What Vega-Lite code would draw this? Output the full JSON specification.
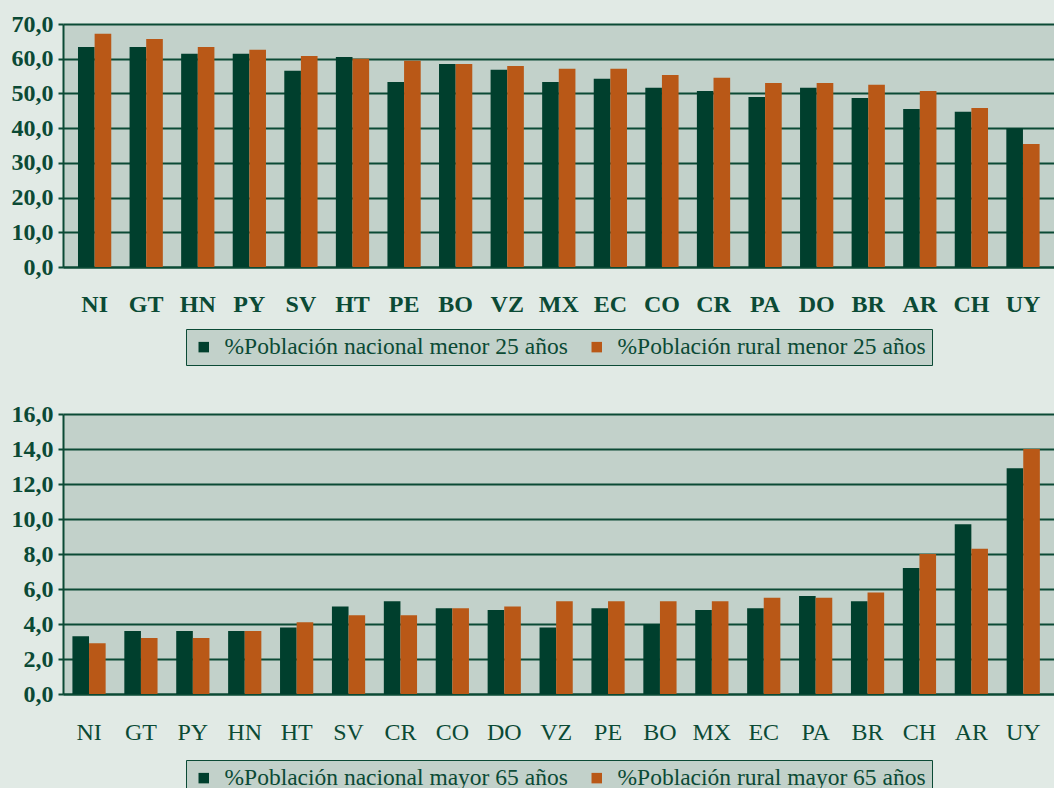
{
  "$schema": "https://vega.github.io/schema/vega-lite/v6.json",
  "background": "#e1eae5",
  "padding": {"left": 11, "top": 12, "right": 0, "bottom": 0},
  "bounds": "flush",
  "spacing": 147,
  "config": {
    "view": {"fill": "#c2d1ca", "stroke": null},
    "font": "Liberation Serif",
    "axis": {
      "labelColor": "#0b4a35",
      "labelFont": "Liberation Serif",
      "domainColor": "#0b4a35",
      "domainWidth": 2,
      "gridColor": "#0b4a35",
      "gridWidth": 2,
      "gridOpacity": 1,
      "tickColor": "#0b4a35",
      "tickWidth": 2,
      "tickSize": 5
    },
    "legend": {
      "labelColor": "#0b4a35",
      "labelFont": "Liberation Serif",
      "labelLimit": 600
    }
  },
  "datasets": {
    "menor25": [
      {"pais": "NI", "serie": "%Población nacional menor 25 años", "valor": 63.4},
      {"pais": "NI", "serie": "%Población rural menor 25 años", "valor": 67.2},
      {"pais": "GT", "serie": "%Población nacional menor 25 años", "valor": 63.4},
      {"pais": "GT", "serie": "%Población rural menor 25 años", "valor": 65.7},
      {"pais": "HN", "serie": "%Población nacional menor 25 años", "valor": 61.4},
      {"pais": "HN", "serie": "%Población rural menor 25 años", "valor": 63.4},
      {"pais": "PY", "serie": "%Población nacional menor 25 años", "valor": 61.4},
      {"pais": "PY", "serie": "%Población rural menor 25 años", "valor": 62.6},
      {"pais": "SV", "serie": "%Población nacional menor 25 años", "valor": 56.5},
      {"pais": "SV", "serie": "%Población rural menor 25 años", "valor": 60.8},
      {"pais": "HT", "serie": "%Población nacional menor 25 años", "valor": 60.5},
      {"pais": "HT", "serie": "%Población rural menor 25 años", "valor": 60.0},
      {"pais": "PE", "serie": "%Población nacional menor 25 años", "valor": 53.3},
      {"pais": "PE", "serie": "%Población rural menor 25 años", "valor": 59.4},
      {"pais": "BO", "serie": "%Población nacional menor 25 años", "valor": 58.5},
      {"pais": "BO", "serie": "%Población rural menor 25 años", "valor": 58.5},
      {"pais": "VZ", "serie": "%Población nacional menor 25 años", "valor": 56.8},
      {"pais": "VZ", "serie": "%Población rural menor 25 años", "valor": 57.9},
      {"pais": "MX", "serie": "%Población nacional menor 25 años", "valor": 53.3},
      {"pais": "MX", "serie": "%Población rural menor 25 años", "valor": 57.1},
      {"pais": "EC", "serie": "%Población nacional menor 25 años", "valor": 54.2},
      {"pais": "EC", "serie": "%Población rural menor 25 años", "valor": 57.1},
      {"pais": "CO", "serie": "%Población nacional menor 25 años", "valor": 51.6},
      {"pais": "CO", "serie": "%Población rural menor 25 años", "valor": 55.3},
      {"pais": "CR", "serie": "%Población nacional menor 25 años", "valor": 50.7},
      {"pais": "CR", "serie": "%Población rural menor 25 años", "valor": 54.5},
      {"pais": "PA", "serie": "%Población nacional menor 25 años", "valor": 49.0},
      {"pais": "PA", "serie": "%Población rural menor 25 años", "valor": 53.0},
      {"pais": "DO", "serie": "%Población nacional menor 25 años", "valor": 51.6},
      {"pais": "DO", "serie": "%Población rural menor 25 años", "valor": 53.0},
      {"pais": "BR", "serie": "%Población nacional menor 25 años", "valor": 48.7},
      {"pais": "BR", "serie": "%Población rural menor 25 años", "valor": 52.5},
      {"pais": "AR", "serie": "%Población nacional menor 25 años", "valor": 45.5},
      {"pais": "AR", "serie": "%Población rural menor 25 años", "valor": 50.7},
      {"pais": "CH", "serie": "%Población nacional menor 25 años", "valor": 44.7},
      {"pais": "CH", "serie": "%Población rural menor 25 años", "valor": 45.8},
      {"pais": "UY", "serie": "%Población nacional menor 25 años", "valor": 40.0},
      {"pais": "UY", "serie": "%Población rural menor 25 años", "valor": 35.4}
    ],
    "mayor65": [
      {"pais": "NI", "serie": "%Población nacional mayor 65 años", "valor": 3.3},
      {"pais": "NI", "serie": "%Población rural mayor 65 años", "valor": 2.9},
      {"pais": "GT", "serie": "%Población nacional mayor 65 años", "valor": 3.6},
      {"pais": "GT", "serie": "%Población rural mayor 65 años", "valor": 3.2},
      {"pais": "PY", "serie": "%Población nacional mayor 65 años", "valor": 3.6},
      {"pais": "PY", "serie": "%Población rural mayor 65 años", "valor": 3.2},
      {"pais": "HN", "serie": "%Población nacional mayor 65 años", "valor": 3.6},
      {"pais": "HN", "serie": "%Población rural mayor 65 años", "valor": 3.6},
      {"pais": "HT", "serie": "%Población nacional mayor 65 años", "valor": 3.8},
      {"pais": "HT", "serie": "%Población rural mayor 65 años", "valor": 4.1},
      {"pais": "SV", "serie": "%Población nacional mayor 65 años", "valor": 5.0},
      {"pais": "SV", "serie": "%Población rural mayor 65 años", "valor": 4.5},
      {"pais": "CR", "serie": "%Población nacional mayor 65 años", "valor": 5.3},
      {"pais": "CR", "serie": "%Población rural mayor 65 años", "valor": 4.5},
      {"pais": "CO", "serie": "%Población nacional mayor 65 años", "valor": 4.9},
      {"pais": "CO", "serie": "%Población rural mayor 65 años", "valor": 4.9},
      {"pais": "DO", "serie": "%Población nacional mayor 65 años", "valor": 4.8},
      {"pais": "DO", "serie": "%Población rural mayor 65 años", "valor": 5.0},
      {"pais": "VZ", "serie": "%Población nacional mayor 65 años", "valor": 3.8},
      {"pais": "VZ", "serie": "%Población rural mayor 65 años", "valor": 5.3},
      {"pais": "PE", "serie": "%Población nacional mayor 65 años", "valor": 4.9},
      {"pais": "PE", "serie": "%Población rural mayor 65 años", "valor": 5.3},
      {"pais": "BO", "serie": "%Población nacional mayor 65 años", "valor": 4.0},
      {"pais": "BO", "serie": "%Población rural mayor 65 años", "valor": 5.3},
      {"pais": "MX", "serie": "%Población nacional mayor 65 años", "valor": 4.8},
      {"pais": "MX", "serie": "%Población rural mayor 65 años", "valor": 5.3},
      {"pais": "EC", "serie": "%Población nacional mayor 65 años", "valor": 4.9},
      {"pais": "EC", "serie": "%Población rural mayor 65 años", "valor": 5.5},
      {"pais": "PA", "serie": "%Población nacional mayor 65 años", "valor": 5.6},
      {"pais": "PA", "serie": "%Población rural mayor 65 años", "valor": 5.5},
      {"pais": "BR", "serie": "%Población nacional mayor 65 años", "valor": 5.3},
      {"pais": "BR", "serie": "%Población rural mayor 65 años", "valor": 5.8},
      {"pais": "CH", "serie": "%Población nacional mayor 65 años", "valor": 7.2},
      {"pais": "CH", "serie": "%Población rural mayor 65 años", "valor": 8.0},
      {"pais": "AR", "serie": "%Población nacional mayor 65 años", "valor": 9.7},
      {"pais": "AR", "serie": "%Población rural mayor 65 años", "valor": 8.3},
      {"pais": "UY", "serie": "%Población nacional mayor 65 años", "valor": 12.9},
      {"pais": "UY", "serie": "%Población rural mayor 65 años", "valor": 14.0}
    ]
  },
  "vconcat": [
    {
      "width": 991,
      "height": 243,
      "data": {"name": "menor25"},
      "mark": {"type": "bar"},
      "encoding": {
        "x": {
          "field": "pais", "type": "nominal",
          "sort": ["NI","GT","HN","PY","SV","HT","PE","BO","VZ","MX","EC","CO","CR","PA","DO","BR","AR","CH","UY"],
          "scale": {"paddingInner": 0.355, "paddingOuter": 0.285, "align": 0.51},
          "axis": {"title": null, "labelAngle": 0, "ticks": false, "labelPadding": 25, "labelBaseline": "top", "labelFontSize": 24, "labelFontWeight": "bold", "grid": false}
        },
        "xOffset": {"field": "serie", "type": "nominal"},
        "y": {
          "field": "valor", "type": "quantitative",
          "scale": {"domain": [0, 70], "nice": false},
          "axis": {"title": null, "values": [0,10,20,30,40,50,60,70], "labelExpr": "replace(format(datum.value, '.1f'), '.', ',')", "labelFontSize": 24, "labelFontWeight": "bold", "labelPadding": 5}
        },
        "color": {
          "field": "serie", "type": "nominal",
          "scale": {"domain": ["%Población nacional menor 25 años", "%Población rural menor 25 años"], "range": ["#003f2d", "#b95817"]},
          "legend": {"title": null, "orient": "none", "legendX": 123, "legendY": 305, "direction": "horizontal", "fillColor": "#c2d1ca", "strokeColor": "#0b4a35", "padding": 6, "symbolType": "square", "symbolSize": 110, "symbolStrokeWidth": 0, "labelFont": "Liberation Serif", "labelFontSize": 23.5, "labelColor": "#0b4a35", "columnPadding": 17, "labelOffset": 9}
        }
      }
    },
    {
      "width": 991,
      "height": 280,
      "data": {"name": "mayor65"},
      "mark": {"type": "bar"},
      "encoding": {
        "x": {
          "field": "pais", "type": "nominal",
          "sort": ["NI","GT","PY","HN","HT","SV","CR","CO","DO","VZ","PE","BO","MX","EC","PA","BR","CH","AR","UY"],
          "scale": {"paddingInner": 0.36, "paddingOuter": 0.227, "align": 0.4},
          "axis": {"title": null, "labelAngle": 0, "ticks": false, "labelPadding": 26, "labelBaseline": "top", "labelFontSize": 24, "grid": false}
        },
        "xOffset": {"field": "serie", "type": "nominal"},
        "y": {
          "field": "valor", "type": "quantitative",
          "scale": {"domain": [0, 16], "nice": false},
          "axis": {"title": null, "values": [0,2,4,6,8,10,12,14,16], "labelExpr": "replace(format(datum.value, '.1f'), '.', ',')", "labelFontSize": 24, "labelFontWeight": "bold", "labelPadding": 5}
        },
        "color": {
          "field": "serie", "type": "nominal",
          "scale": {"domain": ["%Población nacional mayor 65 años", "%Población rural mayor 65 años"], "range": ["#003f2d", "#b95817"]},
          "legend": {"title": null, "orient": "none", "legendX": 123, "legendY": 346, "direction": "horizontal", "fillColor": "#c2d1ca", "strokeColor": "#0b4a35", "padding": 6, "symbolType": "square", "symbolSize": 110, "symbolStrokeWidth": 0, "labelFont": "Liberation Serif", "labelFontSize": 23.5, "labelColor": "#0b4a35", "columnPadding": 17, "labelOffset": 9}
        }
      }
    }
  ],
  "resolve": {"scale": {"color": "independent", "x": "independent", "y": "independent", "xOffset": "independent"}, "legend": {"color": "independent"}}
}
